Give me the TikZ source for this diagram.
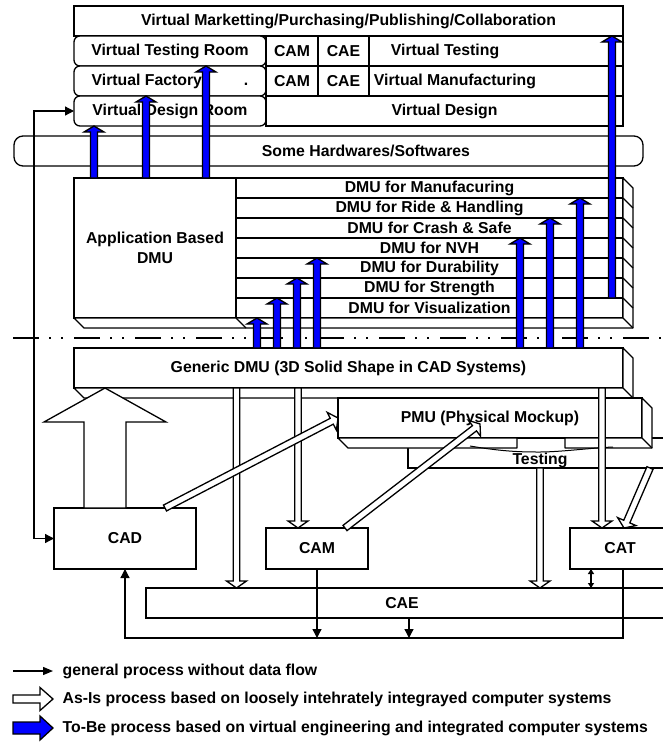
\documentclass[tikz,border=0pt]{standalone}
\usepackage{fontspec}
\setmainfont{Liberation Sans}
\usetikzlibrary{arrows.meta,calc}
\tikzset{
  box/.style     = {draw,fill=white,inner sep=0pt,outer sep=0pt,anchor=north west},
  rbox/.style    = {box,rounded corners=6pt},
  lbl/.style     = {inner sep=0pt},
  face/.style    = {draw,fill=white,line join=round},
  cutline/.style = {dash pattern=on 26pt off 10pt on 2pt off 10pt on 2pt off 11pt},
  smallarr/.style = {{Triangle[length=5pt,width=6pt]}-{Triangle[length=5pt,width=6pt]}}
}
% block arrow: fill, from, to, half shaft, half head, head length
\newcommand{\fatarrow}[6]{%
  \coordinate (fa-s) at #2;
  \coordinate (fa-e) at #3;
  \coordinate (fa-h) at ($(fa-e)!#6pt!(fa-s)$);
  \draw[fill=#1,line join=miter]
    ($(fa-s)!#4pt!90:(fa-e)$) -- ($(fa-h)!#4pt!90:(fa-e)$) -- ($(fa-h)!#5pt!90:(fa-e)$) -- (fa-e)
    -- ($(fa-h)!#5pt!-90:(fa-e)$) -- ($(fa-h)!#4pt!-90:(fa-e)$) -- ($(fa-s)!#4pt!-90:(fa-e)$) -- cycle;
}
\newcommand{\asis}[2]{\fatarrow{white}{#1}{#2}{3.3}{10}{7}}
\newcommand{\tobe}[2]{\fatarrow{blue}{#1}{#2}{3.5}{10}{6}}

\begin{document}
\begin{tikzpicture}[x=1pt,y=-1pt,line width=1.3pt,
  >={Triangle[length=9pt,width=9pt]},
  every node/.style={font=\fontsize{15.8}{20}\selectfont\bfseries}]
\useasboundingbox (0,0) rectangle (662,742);
% virtual engineering layer
\node[box,minimum width=549pt,minimum height=30pt] (vmpc) at (74,6) {Virtual Marketting/Purchasing/Publishing/Collaboration};
\node[rbox,minimum width=192pt,minimum height=30pt] (vtr) at (74,36) {Virtual Testing Room};
\node[rbox,minimum width=192pt,minimum height=30pt] (vfac) at (74,66) {Virtual Factory\hspace{42pt}.};
\node[rbox,minimum width=192pt,minimum height=30pt] (vdr) at (74,96) {Virtual Design Room};
\node[box,minimum width=52pt,minimum height=30pt] (camt) at (266,36) {CAM};
\node[box,minimum width=51pt,minimum height=30pt] (caet) at (318,36) {CAE};
\node[box,minimum width=254pt,minimum height=30pt] (vt) at (369,36) {};
\node[box,minimum width=52pt,minimum height=30pt] (camm) at (266,66) {CAM};
\node[box,minimum width=51pt,minimum height=30pt] (caem) at (318,66) {CAE};
\node[box,minimum width=254pt,minimum height=30pt] (vm) at (369,66) {};
\node[box,minimum width=357pt,minimum height=30pt] (vd) at (266,96) {Virtual Design};
\node[lbl] (vtl) at (445,51) {Virtual Testing};
\node[lbl] (vml) at (455,81) {Virtual Manufacturing};
% hardware layer
\node[rbox,rounded corners=9pt,minimum width=629pt,minimum height=30pt] (shw) at (14,136) {};
\node[lbl] (shwl) at (366,151) {Some Hardwares/Softwares};
% application based DMU slab
\node[box,minimum width=162pt,minimum height=140pt,align=center] (adm) at (74,178) {Application Based\\DMU};
\foreach \lab [count=\i] in {Manufacuring,Ride \& Handling,Crash \& Safe,NVH,Durability,Strength,Visualization}
  \node[box,minimum width=387pt,minimum height=20pt] (dmu\i) at (236,158+20*\i) {DMU for \lab};
\draw[face] (adm.south west) -- ++(10,10) -| ($(dmu1.north east)+(10,10)$) -- (dmu1.north east) -- (dmu7.south east) -- cycle;
\draw (adm.south east) -- ++(10,10);
\foreach \i in {1,...,7} \draw (dmu\i.south east) -- ++(10,10);
% virtual / physical border
\draw[cutline] (13,338) -- (662,338);
% generic DMU
\node[box,minimum width=549pt,minimum height=40pt] (gen) at (74,348) {Generic DMU (3D Solid Shape in CAD Systems)};
\draw[face] (gen.south west) -- ++(10,10) -| ($(gen.north east)+(10,10)$) -- (gen.north east) -- (gen.south east) -- cycle;
\draw (gen.south east) -- ++(10,10);
% physical mockup and testing
\node[box,minimum width=262pt,minimum height=30pt] (tst) at (408,438) {};
\node[lbl] (tstl) at (540,460) {Testing};
\node[box,minimum width=304pt,minimum height=40pt] (pmu) at (338,398) {PMU (Physical Mockup)};
\draw[face] (pmu.south west) -- ++(10,10) -- (517,448) -- (517,438) -- cycle;
\draw[face] (565,438) -- (565,448) -| ($(pmu.north east)+(10,10)$) -- (pmu.north east) -- (pmu.south east) -- cycle;
\draw (pmu.south east) -- ++(10,10);
\draw[line width=1pt] (470,446) .. controls (505,452) and (525,452) .. (540,452) .. controls (560,452) and (590,448) .. (613,447);
% CAx systems
\node[box,minimum width=142pt,minimum height=61pt] (cad) at (54,508) {CAD};
\node[box,minimum width=102pt,minimum height=41pt] (cam) at (266,528) {CAM};
\node[box,minimum width=100pt,minimum height=41pt] (cat) at (570,528) {CAT};
\node[box,minimum width=524pt,minimum height=30pt] (cae) at (146,588) {};
\node[lbl] (cael) at (402,603) {CAE};
% general process
\draw[<->] (cad.west) -- ++(-20,0) |- (vdr.west);
\draw[->] (623,0 |- cat.south) |- (cad.south |- 0,638) -- (cad.south);
\draw[->] (cam.south) -- (cam.south |- 0,638);
\draw[->] (409,0 |- cae.south) -- (409,638);
\draw[smallarr] (591,0 |- cat.south) -- (591,0 |- cae.north);
% as-is process
\fatarrow{white}{(105,0 |- cad.north)}{(105,0 |- gen.south)}{21}{61}{34}
\asis{(236.5,0 |- gen.south)}{(236.5,0 |- cae.north)}
\asis{(298,0 |- gen.south)}{(298,0 |- cam.north)}
\asis{(602,0 |- gen.south)}{(602,0 |- cat.north)}
\asis{(540,0 |- tst.south)}{(540,0 |- cae.north)}
\asis{(165,0 |- cad.north)}{(pmu.west)}
\asis{(345,0 |- cam.north)}{(480,424)}
\asis{(650,0 |- tst.south)}{(624,0 |- cat.north)}
% to-be process
\tobe{(94,0 |- adm.north)}{(94,0 |- vdr.south)}
\tobe{(146,0 |- adm.north)}{(146,0 |- vfac.south)}
\tobe{(206,0 |- adm.north)}{(206,0 |- vtr.south)}
\tobe{(257,0 |- gen.north)}{(257,0 |- dmu7.south)}
\tobe{(277,0 |- gen.north)}{(277,0 |- dmu6.south)}
\tobe{(297,0 |- gen.north)}{(297,0 |- dmu5.south)}
\tobe{(317,0 |- gen.north)}{(317,0 |- dmu4.south)}
\tobe{(520,0 |- gen.north)}{(520,0 |- dmu3.south)}
\tobe{(550,0 |- gen.north)}{(550,0 |- dmu2.south)}
\tobe{(580,0 |- gen.north)}{(580,0 |- dmu1.south)}
\tobe{(612,0 |- dmu6.south)}{(612,0 |- vmpc.south)}
% legend
\node[lbl,anchor=west] (lg1) at (62,671) {general process without data flow};
\node[lbl,anchor=west] (lg2) at (62,699) {As-Is process based on loosely intehrately integrayed computer systems};
\node[lbl,anchor=west] (lg3) at (62,728) {To-Be process based on virtual engineering and integrated computer systems};
\draw[-{Triangle[length=10pt,width=8pt]}] ($(lg1.west)+(-49,0)$) -- ($(lg1.west)+(-9,0)$);
\fatarrow{white}{($(lg2.west)+(-49,0)$)}{($(lg2.west)+(-9,0)$)}{4}{11.5}{13}
\fatarrow{blue}{($(lg3.west)+(-49,0)$)}{($(lg3.west)+(-9,0)$)}{6}{12}{13}
\end{tikzpicture}
\end{document}
